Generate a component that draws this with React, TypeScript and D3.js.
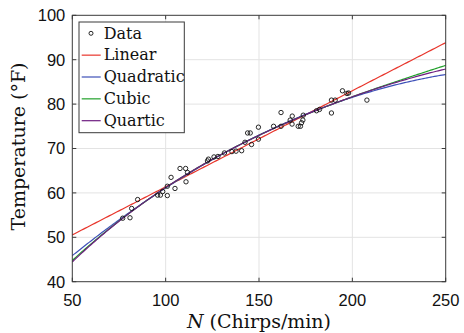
import React, { useEffect, useRef } from 'react'
import * as d3 from 'd3'

// chirp rate (per minute) and temperature (F)
const chirps = [
  77.0, 80.9, 81.8, 85.0, 95.7, 97.2, 98.4, 100.9, 100.9, 102.9,
  105.0, 107.7, 110.7, 110.9, 111.7, 122.4, 122.9, 125.9, 128.0, 131.5,
  135.5, 137.7, 140.7, 142.5, 143.9, 145.3, 146.0, 149.7, 149.7, 157.8,
  161.8, 161.8, 166.7, 167.8, 167.7, 171.0, 172.2, 172.8, 173.7, 173.5,
  180.8, 182.4, 188.8, 188.8, 190.8, 194.7, 197.1, 198.0, 207.8
]
const temps = [
  54.3, 54.4, 56.5, 58.5, 59.5, 59.5, 60.3, 61.5, 59.4, 63.5,
  61.0, 65.5, 65.5, 62.5, 64.6, 67.2, 67.6, 68.1, 68.2, 69.0,
  69.3, 69.4, 69.5, 71.4, 73.5, 73.5, 70.9, 72.1, 74.8, 75.0,
  78.1, 75.0, 76.4, 77.3, 75.5, 75.0, 75.0, 75.8, 77.5, 76.4,
  78.5, 78.8, 78.0, 80.9, 80.9, 83.0, 82.4, 82.5, 80.9
]

const fitNames = ['Linear', 'Quadratic', 'Cubic', 'Quartic']
const fitDegrees = [1, 2, 3, 4]
const fitColors = ['#e8352b', '#3d50b8', '#20a02a', '#6e1d80']

const xTicks = [50, 100, 150, 200, 250]
const yTicks = [40, 50, 60, 70, 80, 90, 100]

// least squares polynomial fit, x centred/scaled to keep it well conditioned
function polyfit(xs, ys, deg) {
  const n = deg + 1
  const A = Array.from({ length: n }, () => new Array(n + 1).fill(0))
  xs.forEach((x, k) => {
    const t = (x - 150) / 100
    const pw = d3.range(2 * n).map(p => Math.pow(t, p))
    for (let i = 0; i < n; i++) {
      for (let j = 0; j < n; j++) A[i][j] += pw[i + j]
      A[i][n] += pw[i] * ys[k]
    }
  })
  for (let c = 0; c < n; c++) {
    let piv = c
    for (let r = c + 1; r < n; r++) if (Math.abs(A[r][c]) > Math.abs(A[piv][c])) piv = r
    ;[A[c], A[piv]] = [A[piv], A[c]]
    for (let r = 0; r < n; r++) {
      if (r === c) continue
      const f = A[r][c] / A[c][c]
      for (let j = c; j <= n; j++) A[r][j] -= f * A[c][j]
    }
  }
  const coef = A.map((row, i) => row[n] / row[i])
  return x => {
    const t = (x - 150) / 100
    return coef.reduce((s, c, i) => s + c * Math.pow(t, i), 0)
  }
}

function App() {
  const svgRef = useRef(null)
  const width = 464
  const height = 333

  useEffect(() => {
    const svg = d3.select(svgRef.current)
    svg.selectAll('*').remove()

    const margin = { top: 15.3, right: 18.3, bottom: 51.3, left: 72.3 }
    const innerWidth = width - margin.left - margin.right
    const innerHeight = height - margin.top - margin.bottom

    const xScale = d3.scaleLinear().domain([50, 250]).range([0, innerWidth])
    const yScale = d3.scaleLinear().domain([40, 100]).range([innerHeight, 0])

    const g = svg.append('g')
      .attr('transform', `translate(${margin.left},${margin.top})`)

    // grid
    g.append('g')
      .selectAll('line')
      .data(xTicks.slice(1, -1))
      .enter().append('line')
      .attr('x1', d => xScale(d)).attr('x2', d => xScale(d))
      .attr('y1', 0).attr('y2', innerHeight)
      .attr('stroke', '#e3e3e3')
    g.append('g')
      .selectAll('line')
      .data(yTicks.slice(1, -1))
      .enter().append('line')
      .attr('y1', d => yScale(d)).attr('y2', d => yScale(d))
      .attr('x1', 0).attr('x2', innerWidth)
      .attr('stroke', '#e3e3e3')

    // fitted curves
    const xs = d3.range(50, 250.5, 1)
    fitDegrees.forEach((deg, i) => {
      const f = polyfit(chirps, temps, deg)
      const line = d3.line()
        .x(d => xScale(d))
        .y(d => yScale(f(d)))
      g.append('path')
        .datum(xs)
        .attr('d', line)
        .attr('fill', 'none')
        .attr('stroke', fitColors[i])
        .attr('stroke-width', 1.2)
    })

    // data points
    g.selectAll('.pt')
      .data(chirps)
      .enter().append('circle')
      .attr('class', 'pt')
      .attr('cx', d => xScale(d))
      .attr('cy', (d, i) => yScale(temps[i]))
      .attr('r', 2.2)
      .attr('fill', 'none')
      .attr('stroke', '#111')
      .attr('stroke-width', 0.9)

    // axes box with inward ticks on all sides
    const axisColor = '#3a3a3a'
    const tick = 4
    g.append('rect')
      .attr('width', innerWidth).attr('height', innerHeight)
      .attr('fill', 'none').attr('stroke', axisColor).attr('stroke-width', 1)

    const xt = g.append('g')
    xTicks.forEach(v => {
      xt.append('line').attr('x1', xScale(v)).attr('x2', xScale(v))
        .attr('y1', innerHeight).attr('y2', innerHeight - tick).attr('stroke', axisColor)
      xt.append('line').attr('x1', xScale(v)).attr('x2', xScale(v))
        .attr('y1', 0).attr('y2', tick).attr('stroke', axisColor)
    })
    const yt = g.append('g')
    yTicks.forEach(v => {
      yt.append('line').attr('y1', yScale(v)).attr('y2', yScale(v))
        .attr('x1', 0).attr('x2', tick).attr('stroke', axisColor)
      yt.append('line').attr('y1', yScale(v)).attr('y2', yScale(v))
        .attr('x1', innerWidth).attr('x2', innerWidth - tick).attr('stroke', axisColor)
    })

    const tickFont = '"Liberation Sans", Arial, sans-serif'
    g.selectAll('.xlab')
      .data(xTicks)
      .enter().append('text')
      .attr('x', d => xScale(d))
      .attr('y', innerHeight + 24.5)
      .style('text-anchor', 'middle')
      .style('font-family', tickFont)
      .style('font-size', '16.5px')
      .style('fill', '#111')
      .text(d => d)

    g.selectAll('.ylab')
      .data(yTicks)
      .enter().append('text')
      .attr('x', -7)
      .attr('y', d => yScale(d) + 6)
      .style('text-anchor', 'end')
      .style('font-family', tickFont)
      .style('font-size', '16.5px')
      .style('fill', '#111')
      .text(d => d)

    // axis titles
    const serif = '"DejaVu Serif", serif'
    const xTitle = svg.append('text')
      .attr('x', margin.left + innerWidth / 2)
      .attr('y', 328)
      .style('text-anchor', 'middle')
      .style('font-family', serif)
      .style('font-size', '19px')
      .style('fill', '#111')
    xTitle.append('tspan').style('font-style', 'italic').text('N')
    xTitle.append('tspan').text('\u00a0(Chirps/min)')

    svg.append('text')
      .attr('transform', `translate(25,${margin.top + innerHeight / 2 - 2}) rotate(-90)`)
      .style('text-anchor', 'middle')
      .style('font-family', serif)
      .style('font-size', '19px')
      .style('fill', '#111')
      .text('Temperature (\u00b0F)')

    // legend
    const legend = svg.append('g')
    legend.append('rect')
      .attr('x', 79).attr('y', 22)
      .attr('width', 105.3).attr('height', 110.7)
      .attr('fill', '#fff').attr('stroke', axisColor).attr('stroke-width', 1)

    const rows = ['Data', ...fitNames]
    rows.forEach((name, i) => {
      const cy = 33.3 + i * 21.85
      if (i === 0) {
        legend.append('circle')
          .attr('cx', 91).attr('cy', cy).attr('r', 2)
          .attr('fill', 'none').attr('stroke', '#111').attr('stroke-width', 0.9)
      } else {
        legend.append('line')
          .attr('x1', 81.7).attr('x2', 100.7)
          .attr('y1', cy).attr('y2', cy)
          .attr('stroke', fitColors[i - 1]).attr('stroke-width', 1.2)
      }
      legend.append('text')
        .attr('x', 103.7)
        .attr('y', cy + 5.2)
        .style('font-family', serif)
        .style('font-size', '16px')
        .style('fill', '#111')
        .text(name)
    })
  }, [])

  return (
    <svg
      ref={svgRef}
      width={width}
      height={height}
      style={{ position: 'absolute', left: 0, top: 0, background: '#fff' }}
    />
  )
}

export default App
